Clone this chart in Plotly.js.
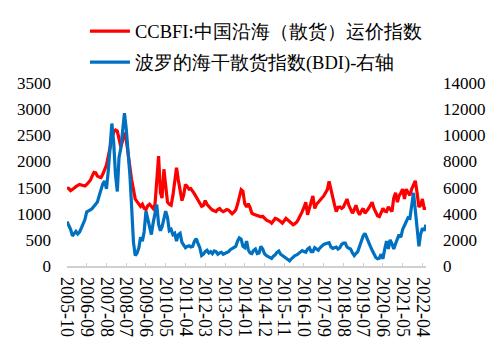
<!DOCTYPE html>
<html>
<head>
<meta charset="utf-8">
<script src="https://cdn.plot.ly/plotly-3.0.1.min.js"></script>
<style>html,body{margin:0;padding:0;background:#fff}#chart{width:503px;height:353px}</style>
</head>
<body>
<div id="chart"></div>
<script>
// Monthly series, starting 2005-10
var startYear = 2005, startMonth = 10;
var ccbfi = [
1500,1480,1440,1460,1490,1520,1540,1560,1550,1540,1530,1560,1590,1640,1720,1790,1780,1720,1700,1690,
1760,1830,1930,2100,2300,2430,2560,2600,2580,2450,2280,2400,2550,2420,2200,1900,1650,1420,1280,1230,
1170,1140,1180,1100,1080,1150,1180,1130,1100,1180,1600,2100,1400,1300,1850,1550,1220,1180,1160,1350,
1600,1880,1650,1400,1250,1350,1560,1520,1470,1480,1440,1380,1320,1250,1190,1140,1160,1250,1180,1130,
1100,1070,1060,1040,1080,1100,1060,1040,1060,1080,1070,1040,1000,1030,1070,1180,1320,1460,1430,1190,
1130,1190,1120,1010,990,975,960,945,940,950,910,880,860,850,820,860,910,900,880,850,
820,870,910,880,850,810,790,810,840,900,960,1040,1120,1220,980,1100,1220,1340,1100,1180,
1220,1270,1300,1340,1400,1460,1620,1450,1340,1180,1040,1120,1130,1100,1130,1200,1280,1160,1080,1010,
1080,1160,1050,980,1050,1100,1010,1050,1100,1160,1220,1100,1005,960,945,1020,1100,1050,1040,1130,
1080,1040,1300,1400,1220,1340,1400,1470,1280,1470,1400,1350,1470,1550,1630,1400,1130,1160,1280,1100,
1100
];
var bdi = [
3400,3100,2800,2300,2500,2650,2450,2600,2900,3200,3550,4150,4200,4300,4400,4600,4700,4900,5400,5900,
6300,6500,5900,7300,9300,10900,9500,7000,5700,8300,9000,10500,11700,10500,9000,7000,4500,1800,800,1000,
1400,2200,1900,2600,4200,3600,3200,2400,3300,4100,4700,3200,2700,3000,3500,4200,3700,2700,2800,2400,
2500,1900,2400,2500,1800,1550,1400,1500,1550,1450,1500,1900,2100,1700,1400,800,900,1100,1200,1000,
1100,950,1150,1100,900,1000,1050,900,950,1050,1100,1250,1350,1400,1500,1900,2150,2050,1500,1400,
1900,1250,1000,950,1200,1300,950,1000,1500,1300,950,800,700,620,580,750,850,1050,1150,900,
800,650,560,450,400,550,680,800,850,950,1100,1180,1100,1050,1300,1400,1100,1100,1400,1300,
1200,1400,1550,1650,1700,1750,1780,1450,1350,1400,1450,1300,1400,1650,1750,1750,1450,1350,1300,1000,
800,950,1100,1500,1900,2300,2500,2100,1800,1500,1200,900,650,550,600,900,550,1300,1900,1300,
2000,1700,1300,1700,2000,2400,2200,2800,3100,3400,3700,3650,4800,5600,4300,2800,1500,2400,2900,2700,
3150
];
var tickLabels = ['2005-10','2006-09','2007-08','2008-07','2009-06','2010-05','2011-04','2012-03','2013-02',
'2014-01','2014-12','2015-11','2016-10','2017-09','2018-08','2019-07','2020-06','2021-05','2022-04'];
var nameRed = 'CCBFI:中国沿海（散货）运价指数';
var nameBlue = '波罗的海干散货指数(BDI)-右轴';

var dates = [];
for (var i = 0; i < ccbfi.length; i++) {
  var mm = startMonth - 1 + i;
  var y = startYear + Math.floor(mm / 12);
  var m = (mm % 12) + 1;
  dates.push(y + '-' + (m < 10 ? '0' + m : m) + '-01');
}
var tickVals = tickLabels.map(function (t) { return t + '-01'; });

var serif = 'Liberation Serif';

var traces = [
  {x: dates, y: ccbfi, name: nameRed, type: 'scatter', mode: 'lines',
   line: {color: '#ff0000', width: 3.2}, legendgroup: 'a'},
  {x: dates, y: bdi, name: nameBlue, type: 'scatter', mode: 'lines', yaxis: 'y2',
   line: {color: '#0070c0', width: 3.2}, legendgroup: 'b'}
];

var layout = {
  width: 503, height: 353,
  margin: {l: 67, r: 77, t: 77, b: 87},
  paper_bgcolor: '#fff', plot_bgcolor: '#fff',
  font: {family: serif, size: 17, color: '#000'},
  showlegend: true,
  legend: {x: 0.05, xanchor: 'left', y: 1.385, yanchor: 'top',
           font: {family: serif, size: 18.5, color: '#000'},
           tracegroupgap: 4, bgcolor: 'rgba(0,0,0,0)', itemwidth: 40},
  xaxis: {type: 'date', range: [dates[0], dates[dates.length - 1]],
          tickmode: 'array', tickvals: tickVals, ticktext: tickLabels,
          tickangle: 90, showgrid: false, zeroline: false,
          showline: true, linecolor: '#d0d0d0', linewidth: 1.5,
          ticks: 'inside', ticklen: 3, tickcolor: '#d0d0d0',
          ticklabelstandoff: 6,
          tickfont: {family: serif, size: 18}},
  yaxis: {range: [0, 3500], dtick: 500, showgrid: false, zeroline: false,
          showline: false, ticks: '', ticklabelstandoff: 15, tickformat: 'd',
          tickfont: {family: serif, size: 17}},
  yaxis2: {range: [0, 14000], dtick: 2000, overlaying: 'y', side: 'right',
           showgrid: false, zeroline: false, showline: false, ticks: '',
           tickformat: 'd', ticklabelstandoff: 16, tickfont: {family: serif, size: 17}}
};

Plotly.newPlot('chart', traces, layout, {staticPlot: true, displayModeBar: false});
</script>
</body>
</html>
